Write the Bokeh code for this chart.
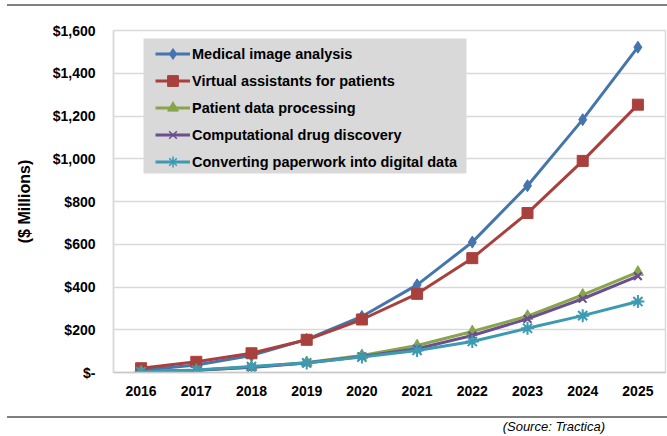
from bokeh.plotting import figure
from bokeh.models import FactorRange, Range1d, FixedTicker, Legend, LegendItem, Div, BoxAnnotation
from bokeh.layouts import column
from bokeh.embed import file_html
from bokeh.resources import INLINE

years = ["2016", "2017", "2018", "2019", "2020", "2021", "2022", "2023", "2024", "2025"]
medical_image = [10, 35, 80, 155, 262, 410, 610, 874, 1183, 1522]
virtual_assistants = [20, 50, 90, 153, 248, 368, 535, 746, 990, 1253]
patient_data = [3, 10, 25, 47, 80, 126, 192, 264, 363, 470]
drug_discovery = [3, 10, 24, 44, 75, 111, 173, 251, 345, 451]
paperwork = [3, 12, 28, 45, 72, 103, 145, 207, 266, 332]

series_names = [
    "Medical image analysis",
    "Virtual assistants for patients",
    "Patient data processing",
    "Computational drug discovery",
    "Converting paperwork into digital data",
]
y_ticks = [0, 200, 400, 600, 800, 1000, 1200, 1400, 1600]
y_tick_labels = ["$-", "$200", "$400", "$600", "$800", "$1,000", "$1,200", "$1,400", "$1,600"]
y_title = "($ Millions)"
source_text = "(Source: Tractica)"

FONT = "Liberation Sans"

p = figure(
    width=667, height=410,
    x_range=FactorRange(factors=years, range_padding=0),
    y_range=Range1d(0, 1600),
    output_backend="svg", toolbar_location=None,
    min_border_left=113, min_border_right=2, min_border_top=24, min_border_bottom=44,
)
p.outline_line_color = "#d9d9d9"
p.outline_line_width = 1.5
p.xgrid.visible = False
p.ygrid.grid_line_color = "#d9d9d9"
p.ygrid.grid_line_width = 1.5

p.xaxis.axis_line_color = "#c8c8c8"
p.xaxis.axis_line_width = 1.5
p.xaxis.major_tick_line_color = None
p.xaxis.minor_tick_line_color = None
p.xaxis.major_label_standoff = 7
p.xaxis.major_label_text_font = FONT
p.xaxis.major_label_text_font_style = "bold"
p.xaxis.major_label_text_font_size = "14px"
p.xaxis.major_label_text_color = "black"

p.yaxis.ticker = FixedTicker(ticks=y_ticks)
p.yaxis.major_label_overrides = {t: l for t, l in zip(y_ticks, y_tick_labels)}
p.yaxis.axis_line_color = "#d9d9d9"
p.yaxis.axis_line_width = 1.5
p.yaxis.major_tick_line_color = None
p.yaxis.minor_tick_line_color = None
p.yaxis.major_label_standoff = 12
p.yaxis.major_label_text_font = FONT
p.yaxis.major_label_text_font_style = "bold"
p.yaxis.major_label_text_font_size = "14px"
p.yaxis.major_label_text_color = "black"
p.yaxis.axis_label = y_title
p.yaxis.axis_label_text_font = FONT
p.yaxis.axis_label_text_font_style = "bold"
p.yaxis.axis_label_text_font_size = "16px"
p.yaxis.axis_label_text_color = "black"
p.yaxis.axis_label_standoff = 17

# legend background panel (canvas pixel units)
p.add_layout(BoxAnnotation(left=143, right=466, top=32, bottom=167,
                           left_units="canvas", right_units="canvas",
                           top_units="canvas", bottom_units="canvas",
                           fill_color="#d9d9d9", fill_alpha=1.0, line_color=None))

colors = ["#4575AD", "#A8403D", "#88A54B", "#6B4F8E", "#3C9AB2"]
markers = ["diamond", "square", "triangle", "x", "asterisk"]
sizes = [12, 11, 11, 11, 13]
legend_sizes = [8, 7, 7, 7, 8]
data = [medical_image, virtual_assistants, patient_data, drug_discovery, paperwork]

items = []
for name, vals, c, m, s, ls in zip(series_names, data, colors, markers, sizes, legend_sizes):
    lr = p.line(years, vals, line_color=c, line_width=3)
    if m in ("x", "asterisk"):
        kr = p.scatter(years, vals, marker=m, size=ls, line_color=c, line_width=1.5)
        p.scatter(years, vals, marker=m, size=s, line_color=c, line_width=2)
    else:
        kr = p.scatter(years, vals, marker=m, size=ls, fill_color=c, line_color=c)
        p.scatter(years, vals, marker=m, size=s, fill_color=c, line_color=c)
    items.append(LegendItem(label=name, renderers=[lr, kr]))

legend = Legend(
    items=items, location=(42, 197),
    glyph_width=35, glyph_height=27, label_height=27, spacing=0,
    padding=0, margin=0, label_standoff=2,
    background_fill_alpha=0.0,
    border_line_color=None,
    label_text_font=FONT, label_text_font_style="bold",
    label_text_font_size="14.5px", label_text_color="black",
)
p.add_layout(legend)

top_line = Div(text="", width=660, height=2, margin=(4, 0, 0, 7),
               styles={"background-color": "#7f7f7f"})
bottom_line = Div(text="", width=660, height=2, margin=(0, 0, 0, 7),
                  styles={"background-color": "#7f7f7f"})
source = Div(text=source_text, width=605, height=18, margin=(0, 0, 0, 0),
             styles={"font-family": FONT, "font-style": "italic", "font-size": "13px",
                     "line-height": "18px", "text-align": "right", "color": "black"})

layout = column(top_line, p, bottom_line, source, spacing=0)

open("out.html", "w").write(file_html(layout, INLINE))
